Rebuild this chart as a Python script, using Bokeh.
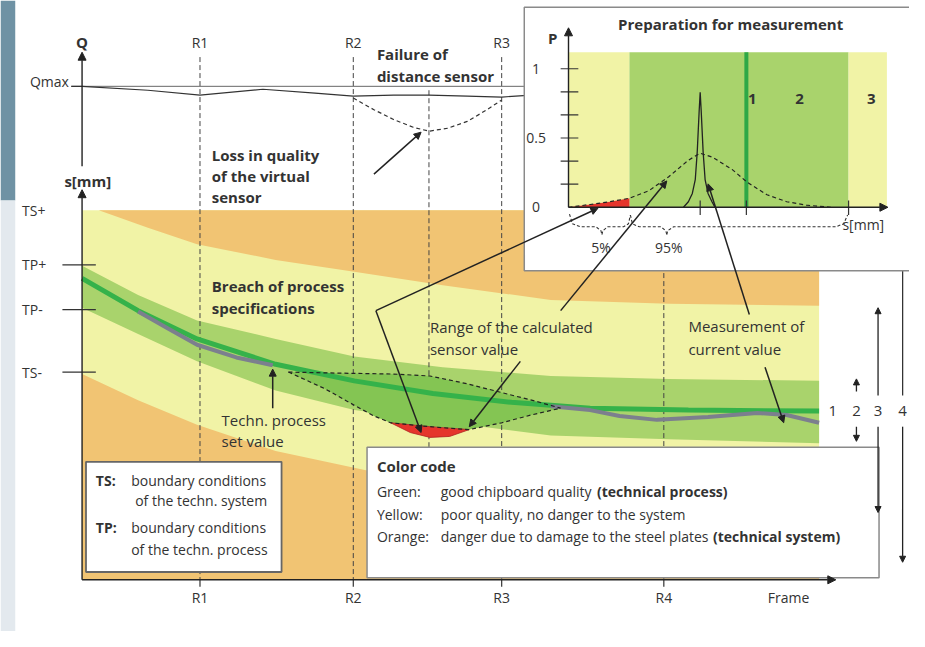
from bokeh.plotting import figure
from bokeh.models import Range1d, ColumnDataSource, Arrow, NormalHead
from bokeh.core.properties import value
from bokeh.embed import file_html
from bokeh.resources import INLINE

# ---------------- data ----------------
# frame positions of the rolling points
R_labels = ["R1", "R2", "R3", "R4"]
R_x = [203, 359, 510, 675]
mid_x = 436

# quality panel (Q)
q_x = [72, 83, 150, 203, 267, 320, 359, 400, 436, 475, 510, 540]
q_y = [88, 88, 92, 97, 91, 95, 98, 97, 97, 98, 99, 97]
qd_x = [359, 380, 400, 420, 436, 455, 475, 495, 510]
qd_y = [100, 112, 122, 130, 134, 131, 124, 112, 102]
qmax_level = 88

# thickness panel s[mm]
s_labels = ["TS+", "TP+", "TP-", "TS-"]
s_levels = [215, 271, 317, 381]

ts_up_x = [100, 150, 200, 280, 360, 450, 560, 680, 833]
ts_up_y = [215, 233, 250, 266, 278, 292, 307, 311, 313]
ts_lo_x = [83, 140, 200, 280, 373, 500, 650, 833]
ts_lo_y = [383, 410, 435, 462, 482, 500, 515, 525]
tp_x = [83, 140, 200, 280, 360, 450, 560, 680, 833]
tp_up_y = [272, 302, 328, 347, 365, 376, 385, 388, 390]
tp_lo_y = [315, 342, 370, 400, 420, 432, 446, 450, 454]
set_x = [83, 140, 200, 280, 360, 440, 520, 600, 700, 833]
set_y = [285, 318, 347, 373, 390, 403, 412, 418, 420, 421]
meas1_x = [140, 170, 200, 240, 277]
meas1_y = [319, 336, 353, 366, 374]
meas2_x = [560, 600, 630, 668, 720, 770, 800, 833]
meas2_y = [416, 420, 426, 430, 427, 423, 425, 433]
env_up_x = [293, 340, 400, 437, 475, 510, 545, 570]
env_up_y = [381, 382, 383, 385, 393, 402, 411, 418]
env_lo_x = [293, 330, 360, 380, 397, 437, 477, 510, 540, 570]
env_lo_y = [381, 398, 415, 426, 433, 437, 440, 433, 425, 418]
red_x = [397, 417, 437, 457, 477]
red_top_y = [433, 435, 437, 438.5, 440]
red_bot_y = [433, 443, 448, 447, 440]

# inset: probability P over s
zone_x = [578, 640, 863, 902]
zone_top_P = 1.12
limit_x = 759
pd_x = [578, 600, 620, 640, 660, 680, 700, 712, 725, 745, 760, 780, 800, 820, 845]
pd_P = [0.0, 0.02, 0.04, 0.065, 0.12, 0.22, 0.34, 0.39, 0.36, 0.27, 0.18, 0.09, 0.04, 0.015, 0.0]
pk_x = [695, 700, 704, 707, 709, 711, 712, 713, 715, 717, 720, 724, 727]
pk_P = [0.0, 0.04, 0.1, 0.2, 0.4, 0.7, 0.83, 0.7, 0.4, 0.2, 0.1, 0.04, 0.0]
P_ticks = [1/6, 2/6, 3/6, 4/6, 5/6, 1.0]
P_tick_labels = ["0", "0.5", "1"]
P_tick_label_vals = [0.0, 0.5, 1.0]
s_ticks = [712, 759, 863]

# ---------------- figure ----------------
p = figure(width=909, height=631, x_range=Range1d(0, 925), y_range=Range1d(647, 0),
           output_backend="svg", toolbar_location=None, min_border=0,
           x_axis_location=None, y_axis_location=None)
p.grid.visible = False
p.outline_line_color = None
p.background_fill_color = "white"
p.border_fill_color = "white"
# inset probability scale: P=0 at canvas 212, P=1 at canvas 70
p0, p1 = 212, 70
p.extra_y_ranges = {"P": Range1d(start=(p0 - 647) / (p0 - p1), end=(p0 - 0) / (p0 - p1))}

ORANGE = "#f1c473"
YELLOW = "#f1f3a6"
LGREEN = "#a9d36c"
DGREEN = "#84c553"
LINEG = "#35b24a"
GRAY = "#7c7f8e"
RED = "#e5352c"
INK = "#333333"
FONT = value("Open Sans")

# left page strip
p.quad(left=0, right=15, top=0, bottom=205, fill_color="#6f92a4", line_color=None)
p.quad(left=0, right=15, top=205, bottom=647, fill_color="#e3e9ee", line_color=None)

# bands
p.quad(left=83, right=833, top=215, bottom=594, fill_color=YELLOW, line_color=None)
p.patch(ts_up_x + [833, 100], ts_up_y + [215, 215], fill_color=ORANGE, line_color=None)
p.patch(ts_lo_x + [833, 83], ts_lo_y + [594, 594], fill_color=ORANGE, line_color=None)
p.patch(tp_x + tp_x[::-1], tp_up_y + tp_lo_y[::-1], fill_color=LGREEN, line_color=None)

# dashed frame markers
p.segment(x0=R_x, y0=[58] * 4, x1=R_x, y1=[594] * 4, line_color="#444", line_width=1, line_dash="5 3")
p.segment(x0=[mid_x], y0=[92], x1=[mid_x], y1=[458], line_color="#444", line_width=1, line_dash="5 3")

# envelope of calculated sensor value
p.patch(env_up_x + env_lo_x[::-1], env_up_y + env_lo_y[::-1], fill_color=DGREEN, line_color=None)

# set value & measurement
p.line(set_x, set_y, line_color=LINEG, line_width=5)
p.line(meas1_x, meas1_y, line_color=GRAY, line_width=4)
p.line(meas2_x, meas2_y, line_color=GRAY, line_width=4)
p.patch(red_x + red_x[::-1], red_top_y + red_bot_y[::-1], fill_color=RED, line_color="#b02020", line_width=0.8)
p.line(env_up_x, env_up_y, line_color="#222", line_width=1.2, line_dash="4 3")
p.line(env_lo_x, env_lo_y, line_color="#222", line_width=1.2, line_dash="4 3")

# Q panel
p.segment(x0=[72], y0=[qmax_level], x1=[540], y1=[qmax_level], line_color="#666", line_width=1)
p.line(q_x, q_y, line_color="#333", line_width=1.2)
p.line(qd_x, qd_y, line_color="#333", line_width=1.2, line_dash="4 3")

# ticks on s axis and frame axis
p.segment(x0=[63] * 3, y0=s_levels[1:], x1=[97] * 3, y1=s_levels[1:], line_color="#333", line_width=1.3)
p.segment(x0=R_x, y0=[594] * 4, x1=R_x, y1=[601] * 4, line_color="#333", line_width=1.2)

# right-hand range marker (part without head)
p.segment(x0=[918], y0=[277], x1=[918], y1=[405], line_color="#333", line_width=1.3)

# legend boxes
p.quad(left=87, right=286, top=473, bottom=586, fill_color="white", line_color="#666", line_width=1.8)
p.quad(left=373, right=894, top=458, bottom=592, fill_color="white", line_color="#8a8a8a", line_width=1.5)

# ---------------- inset ----------------
p.quad(left=533, right=935, top=7, bottom=277, fill_color="white", line_color="#8a8a8a", line_width=1.5)
p.quad(left=zone_x[:-1], right=zone_x[1:], bottom=[0, 0, 0], top=[zone_top_P] * 3,
       fill_color=[YELLOW, LGREEN, YELLOW], line_color=None, y_range_name="P")
p.segment(x0=[limit_x], y0=[0], x1=[limit_x], y1=[zone_top_P], line_color="#2ea846", line_width=4, y_range_name="P")
red_pts_x = [x for x in pd_x if x <= zone_x[1]]
red_pts_P = pd_P[:len(red_pts_x)]
p.patch(red_pts_x + [red_pts_x[-1], red_pts_x[0]], red_pts_P + [0, 0], fill_color=RED, line_color=None, y_range_name="P")
p.line(pd_x, pd_P, line_color="#222", line_width=1.2, line_dash="4 3", y_range_name="P")
p.line(pk_x, pk_P, line_color="#222", line_width=1.3, y_range_name="P")
p.segment(x0=[570] * len(P_ticks), y0=P_ticks, x1=[588] * len(P_ticks), y1=P_ticks, line_color="#333", line_width=1.2, y_range_name="P")
p.segment(x0=s_ticks, y0=[205] * 3, x1=s_ticks, y1=[220] * 3, line_color="#333", line_width=1.2)
brace_x = [[579, 582, 590, 606, 611, 612], [612, 613, 618, 634, 639, 641],
           [641, 643, 650, 672, 677, 678], [678, 679, 685, 850, 858, 862]]
brace_y = [[219, 229, 232, 232, 236, 240], [240, 236, 232, 232, 229, 220],
           [220, 229, 232, 232, 236, 240], [240, 236, 232, 232, 229, 220]]
p.multi_line(brace_x, brace_y, line_color="#333", line_width=1.1, line_dash="3 2")

# ---------------- texts ----------------
def txt(items, size=14, bold=False, align="left", color=INK, y_range_name="default"):
    src = ColumnDataSource(dict(x=[i[1] for i in items], y=[i[2] for i in items], t=[i[0] for i in items]))
    p.text(x="x", y="y", text="t", source=src, text_font=FONT, text_font_size=value(f"{size}px"),
           text_font_style="bold" if bold else "normal", text_align=align, text_baseline="middle",
           text_color=color, y_range_name=y_range_name)

txt([("Q", 83, 43), ("P", 562, 38), ("Preparation for measurement", 743, 24),
     ("1", 765, 101), ("2", 813, 101), ("3", 886, 101)], size=15, bold=True, align="center")
txt([("Failure of", 383, 55), ("distance sensor", 383, 77),
     ("Loss in quality", 215, 158), ("of the virtual", 215, 180), ("sensor", 215, 201),
     ("s[mm]", 65, 185), ("Breach of process", 215, 293), ("specifications", 215, 315),
     ("Color code", 383, 477)], size=15, bold=True)
txt([("TS:", 97, 492), ("TP:", 97, 540),
     ("(technical process)", 607, 503), ("(technical system)", 725, 550)], size=14, bold=True)
txt([(lab, x, 43) for lab, x in zip(R_labels[:3], R_x[:3])] +
    [(lab, x, 612) for lab, x in zip(R_labels, R_x)] + [("Frame", 802, 612)], align="center")
txt([("Techn. process", 225, 430), ("set value", 225, 452),
     ("Range of the calculated", 437, 335), ("sensor value", 437, 357),
     ("Measurement of", 700, 334), ("current value", 700, 357)], size=15)
txt([("Qmax", 30, 83)] + [(lab, 22, lv) for lab, lv in zip(s_labels, s_levels)] +
    [("boundary conditions", 133, 492), ("of the techn. system", 137, 513),
     ("boundary conditions", 133, 540), ("of the techn. process", 133, 563),
     ("Green:", 383, 503), ("Yellow:", 383, 527), ("Orange:", 383, 550),
     ("good chipboard quality", 448, 503), ("poor quality, no danger to the system", 448, 527),
     ("danger due to damage to the steel plates", 448, 550)])
txt([("1", 847, 421), ("2", 871, 421), ("3", 893, 421), ("4", 918, 421)], size=15, align="center")
txt([("5%", 611, 253), ("95%", 680, 253), ("s[mm]", 878, 230)], align="center")
txt([(lab, 545, v) for lab, v in zip(P_tick_labels, P_tick_label_vals)], align="center", y_range_name="P")

# ---------------- arrows ----------------
def arrows(segs, width=1.5, size=7, color="#222"):
    src = ColumnDataSource(dict(x0=[s[0] for s in segs], y0=[s[1] for s in segs],
                                x1=[s[2] for s in segs], y1=[s[3] for s in segs]))
    p.add_layout(Arrow(end=NormalHead(size=size, fill_color=color, line_color=color, line_width=1),
                       x_start="x0", y_start="y0", x_end="x1", y_end="y1", source=src,
                       line_color=color, line_width=width))

# axes
arrows([(83, 170, 83, 53), (83, 594, 83, 194), (83, 594, 850, 594),
        (578, 212, 578, 28), (578, 212, 903, 212)], width=1.4, size=8)
# range markers on the right
arrows([(871, 401, 871, 388), (871, 437, 871, 452), (893, 405, 893, 315),
        (893, 437, 893, 525), (918, 437, 918, 576)], width=1.3, size=6)
# pointers
arrows([(380, 178, 428, 135), (382, 318, 608, 213), (382, 318, 428, 443),
        (570, 318, 678, 185), (529, 370, 477, 437), (762, 322, 720, 188),
        (778, 376, 797, 433), (277, 418, 277, 378)], width=1.5, size=7)

open("out.html", "w").write(file_html(p, INLINE))
